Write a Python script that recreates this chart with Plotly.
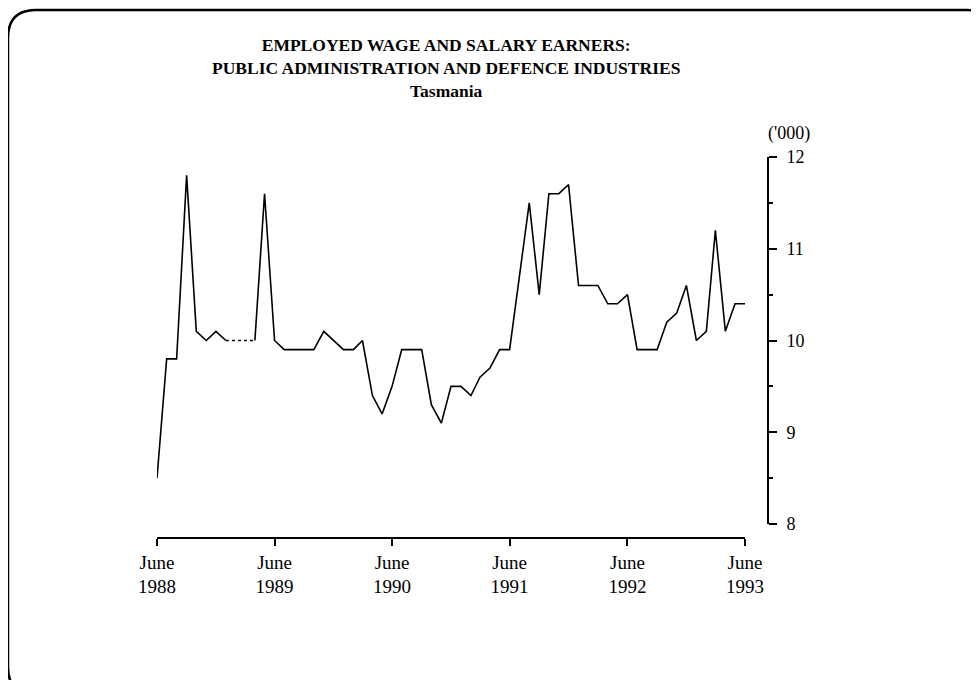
import plotly.graph_objects as go

# monthly data, June 1988 - June 1993 ('000 persons)
months = [
    "1988-06", "1988-07", "1988-08", "1988-09", "1988-10", "1988-11", "1988-12",
    "1989-01", "1989-02", "1989-03", "1989-04", "1989-05", "1989-06", "1989-07",
    "1989-08", "1989-09", "1989-10", "1989-11", "1989-12", "1990-01", "1990-02",
    "1990-03", "1990-04", "1990-05", "1990-06", "1990-07", "1990-08", "1990-09",
    "1990-10", "1990-11", "1990-12", "1991-01", "1991-02", "1991-03", "1991-04",
    "1991-05", "1991-06", "1991-07", "1991-08", "1991-09", "1991-10", "1991-11",
    "1991-12", "1992-01", "1992-02", "1992-03", "1992-04", "1992-05", "1992-06",
    "1992-07", "1992-08", "1992-09", "1992-10", "1992-11", "1992-12", "1993-01",
    "1993-02", "1993-03", "1993-04", "1993-05", "1993-06",
]
employed = [
    8.5, 9.8, 9.8, 11.8, 10.1, 10.0, 10.1,
    10.0, 10.0, 10.0, 10.0, 11.6, 10.0, 9.9,
    9.9, 9.9, 9.9, 10.1, 10.0, 9.9, 9.9,
    10.0, 9.4, 9.2, 9.5, 9.9, 9.9, 9.9,
    9.3, 9.1, 9.5, 9.5, 9.4, 9.6, 9.7,
    9.9, 9.9, 10.7, 11.5, 10.5, 11.6, 11.6,
    11.7, 10.6, 10.6, 10.6, 10.4, 10.4, 10.5,
    9.9, 9.9, 9.9, 10.2, 10.3, 10.6, 10.0,
    10.1, 11.2, 10.1, 10.4, 10.4,
]
# months drawn with a dotted line in the original print
dotted_months = ["1989-01", "1989-02", "1989-03", "1989-04"]

tick_months = ["1988-06", "1989-06", "1990-06", "1991-06", "1992-06", "1993-06"]
tick_labels = ["June<br>1988", "June<br>1989", "June<br>1990",
               "June<br>1991", "June<br>1992", "June<br>1993"]
y_ticks = [8, 9, 10, 11, 12]

FONT = "Liberation Serif"

# page has an 8px body margin, so work in page pixels and shift
OFF = 8
W, H = 979 - OFF, 680 - OFF
L, R, T, B = 157 - OFF, 768 - OFF, 157 - OFF, 538 - OFF


def px(x):
    return (x - OFF - L) / (R - L)


def py(y):
    return 1 - (y - OFF - T) / (B - T)


solid = [v if (m not in dotted_months[1:-1]) else None for m, v in zip(months, employed)]
dotted_x = [m for m in months if m in dotted_months]
dotted_y = [v for m, v in zip(months, employed) if m in dotted_months]

fig = go.Figure()
fig.add_trace(go.Scatter(x=months, y=solid, mode="lines", connectgaps=False,
                         line=dict(color="black", width=1.6), showlegend=False))
fig.add_trace(go.Scatter(x=dotted_x, y=dotted_y, mode="lines",
                         line=dict(color="black", width=1.4, dash="dot"), showlegend=False))

# rounded border of the printed panel (only top and left visible)
r = 28
x0, y0, x1, y1 = 8, 10, 995, 695
path = (f"M {px(x0)},{py(y0 + r)} Q {px(x0)},{py(y0)} {px(x0 + r)},{py(y0)} "
        f"L {px(x1 - r)},{py(y0)} Q {px(x1)},{py(y0)} {px(x1)},{py(y0 + r)} "
        f"L {px(x1)},{py(y1 - r)} Q {px(x1)},{py(y1)} {px(x1 - r)},{py(y1)} "
        f"L {px(x0 + r)},{py(y1)} Q {px(x0)},{py(y1)} {px(x0)},{py(y1 - r)} Z")
fig.add_shape(type="path", path=path, xref="paper", yref="paper",
              line=dict(color="black", width=2.5))

title = ("<b>EMPLOYED WAGE AND SALARY EARNERS:<br>"
         "PUBLIC ADMINISTRATION AND DEFENCE INDUSTRIES<br>"
         "Tasmania</b>")
fig.add_annotation(text=title, x=px(446), y=py(68), xref="paper", yref="paper",
                   showarrow=False, xanchor="center", yanchor="middle",
                   font=dict(family=FONT, size=17.5, color="black"))
fig.add_annotation(text="('000)", x=px(766), y=py(134), xref="paper", yref="paper",
                   xanchor="left", yanchor="middle", showarrow=False,
                   font=dict(family=FONT, size=18, color="black"))

fig.update_layout(
    width=W, height=H,
    margin=dict(l=L, r=W - R, t=T, b=H - B),
    plot_bgcolor="white", paper_bgcolor="white",
    showlegend=False,
    xaxis=dict(
        domain=[0, px(745)], range=["1988-06-01", "1993-06-01"],
        anchor="free", position=0,
        tickvals=tick_months, ticktext=tick_labels,
        ticks="outside", ticklen=7, tickwidth=1.5, tickcolor="black",
        showline=True, linecolor="black", linewidth=1.5,
        showgrid=False, zeroline=False,
        tickfont=dict(family=FONT, size=19, color="black"),
    ),
    yaxis=dict(
        domain=[py(524), 1], range=[8, 12], side="right",
        anchor="free", position=1,
        tickvals=y_ticks, ticks="outside", ticklen=8, tickwidth=1.5, tickcolor="black",
        minor=dict(dtick=0.5, ticks="outside", ticklen=4, tickwidth=1.5, tickcolor="black"),
        showline=True, linecolor="black", linewidth=1.8,
        showgrid=False, zeroline=False, ticklabelstandoff=6,
        tickfont=dict(family=FONT, size=18, color="black"),
    ),
)

fig.write_html("out.html")
